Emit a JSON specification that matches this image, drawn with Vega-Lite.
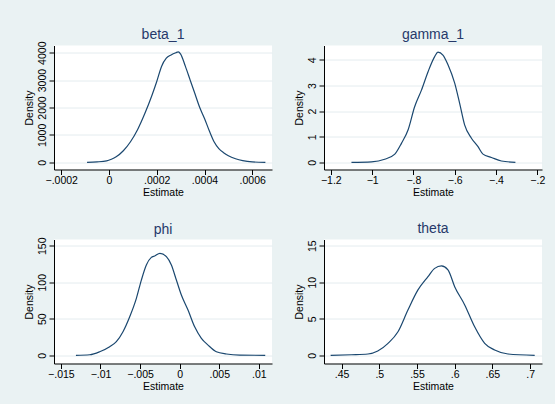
{
  "$schema": "https://vega.github.io/schema/vega-lite/v6.json",
  "autosize": {"type": "pad"},
  "padding": {"left": 24, "top": 27.5, "right": 14, "bottom": 12},
  "background": "#EAF2F3",
  "columns": 2,
  "spacing": {"row": 70, "column": 52},
  "bounds": "flush",
  "concat": [
    {
      "title": {"text": "beta_1", "offset": -1},
      "width": 218, "height": 124,
      "data": {"values": [
        {"x": -0.000092, "density": 0}, {"x": -0.00005, "density": 15}, {"x": -0.00001, "density": 50},
        {"x": 0.00001, "density": 110}, {"x": 0.00003, "density": 200}, {"x": 0.00006, "density": 420},
        {"x": 0.00009, "density": 750}, {"x": 0.00012, "density": 1200}, {"x": 0.00015, "density": 1780},
        {"x": 0.00018, "density": 2450}, {"x": 0.0002, "density": 2950}, {"x": 0.00022, "density": 3500},
        {"x": 0.00024, "density": 3800}, {"x": 0.00026, "density": 3920}, {"x": 0.00028, "density": 4000},
        {"x": 0.00029, "density": 4030}, {"x": 0.0003, "density": 3950}, {"x": 0.00032, "density": 3500},
        {"x": 0.00034, "density": 3000}, {"x": 0.00036, "density": 2500}, {"x": 0.00038, "density": 2000},
        {"x": 0.0004, "density": 1600}, {"x": 0.00042, "density": 1150}, {"x": 0.00044, "density": 750},
        {"x": 0.00046, "density": 500}, {"x": 0.00048, "density": 350}, {"x": 0.0005, "density": 240},
        {"x": 0.00053, "density": 130}, {"x": 0.00056, "density": 60}, {"x": 0.0006, "density": 15},
        {"x": 0.000655, "density": 0}
      ]},
      "mark": {"type": "line", "color": "#1A476F", "strokeWidth": 1.2, "interpolate": "monotone"},
      "encoding": {
        "x": {"field": "x", "type": "quantitative", "scale": {"domain": [-0.0002304, 0.0006827], "nice": false, "zero": false},
              "axis": {"values": [-0.0002, 0, 0.0002, 0.0004, 0.0006], "title": "Estimate"}},
        "y": {"field": "density", "type": "quantitative", "scale": {"domain": [-263, 4263], "nice": false, "zero": false},
              "axis": {"values": [0, 1000, 2000, 3000, 4000], "title": "Density"}}
      }
    },
    {
      "title": {"text": "gamma_1", "offset": 4},
      "width": 218, "height": 124,
      "data": {"values": [
        {"x": -1.1, "density": 0}, {"x": -1.003, "density": 0.02}, {"x": -0.939, "density": 0.12},
        {"x": -0.89, "density": 0.32}, {"x": -0.858, "density": 0.74}, {"x": -0.826, "density": 1.26},
        {"x": -0.794, "density": 2.17}, {"x": -0.761, "density": 2.82}, {"x": -0.729, "density": 3.54},
        {"x": -0.697, "density": 4.13}, {"x": -0.681, "density": 4.3}, {"x": -0.657, "density": 4.19},
        {"x": -0.632, "density": 3.8}, {"x": -0.6, "density": 3.09}, {"x": -0.576, "density": 2.3},
        {"x": -0.552, "density": 1.46}, {"x": -0.519, "density": 0.94}, {"x": -0.487, "density": 0.61},
        {"x": -0.463, "density": 0.32}, {"x": -0.422, "density": 0.19}, {"x": -0.374, "density": 0.05},
        {"x": -0.306, "density": 0}
      ]},
      "mark": {"type": "line", "color": "#1A476F", "strokeWidth": 1.2, "interpolate": "monotone"},
      "encoding": {
        "x": {"field": "x", "type": "quantitative", "scale": {"domain": [-1.233, -0.1772], "nice": false, "zero": false},
              "axis": {"values": [-1.2, -1, -0.8, -0.6, -0.4, -0.2], "title": "Estimate"}},
        "y": {"field": "density", "type": "quantitative", "scale": {"domain": [-0.281, 4.5625], "nice": false, "zero": false},
              "axis": {"values": [0, 1, 2, 3, 4], "title": "Density"}}
      }
    },
    {
      "title": {"text": "phi", "offset": 0},
      "width": 218, "height": 124,
      "data": {"values": [
        {"x": -0.0131, "density": 0}, {"x": -0.01136, "density": 0.8}, {"x": -0.0101, "density": 4.9},
        {"x": -0.00884, "density": 11.8}, {"x": -0.008, "density": 18.6}, {"x": -0.00716, "density": 32.3},
        {"x": -0.00631, "density": 52.8}, {"x": -0.00547, "density": 78}, {"x": -0.00484, "density": 103},
        {"x": -0.00421, "density": 123.6}, {"x": -0.00358, "density": 134}, {"x": -0.00316, "density": 135.9},
        {"x": -0.0025, "density": 139.6}, {"x": -0.00168, "density": 135}, {"x": -0.00105, "density": 123.6},
        {"x": -0.00042, "density": 103}, {"x": 0.00021, "density": 82.5}, {"x": 0.00105, "density": 62},
        {"x": 0.00189, "density": 39}, {"x": 0.00274, "density": 23.3}, {"x": 0.00358, "density": 14},
        {"x": 0.00463, "density": 4.9}, {"x": 0.0059, "density": 1.8}, {"x": 0.00758, "density": 0.2},
        {"x": 0.0108, "density": 0}
      ]},
      "mark": {"type": "line", "color": "#1A476F", "strokeWidth": 1.2, "interpolate": "monotone"},
      "encoding": {
        "x": {"field": "x", "type": "quantitative", "scale": {"domain": [-0.01587, 0.011654], "nice": false, "zero": false},
              "axis": {"values": [-0.015, -0.01, -0.005, 0, 0.005, 0.01], "title": "Estimate"}},
        "y": {"field": "density", "type": "quantitative", "scale": {"domain": [-11.2, 158.5], "nice": false, "zero": false},
              "axis": {"values": [0, 50, 100, 150], "title": "Density"}}
      }
    },
    {
      "title": {"text": "theta", "offset": 4},
      "width": 218, "height": 124,
      "data": {"values": [
        {"x": 0.4355, "density": 0}, {"x": 0.463, "density": 0.08}, {"x": 0.485, "density": 0.18},
        {"x": 0.498, "density": 0.59}, {"x": 0.5116, "density": 1.64}, {"x": 0.5248, "density": 3.23},
        {"x": 0.538, "density": 6.2}, {"x": 0.5513, "density": 8.95}, {"x": 0.5646, "density": 10.77},
        {"x": 0.5735, "density": 11.9}, {"x": 0.5824, "density": 12.23}, {"x": 0.5911, "density": 11.7},
        {"x": 0.6, "density": 9.4}, {"x": 0.6133, "density": 6.9}, {"x": 0.6265, "density": 3.9},
        {"x": 0.6398, "density": 1.64}, {"x": 0.653, "density": 0.73}, {"x": 0.6707, "density": 0.18},
        {"x": 0.7061, "density": 0}
      ]},
      "mark": {"type": "line", "color": "#1A476F", "strokeWidth": 1.2, "interpolate": "monotone"},
      "encoding": {
        "x": {"field": "x", "type": "quantitative", "scale": {"domain": [0.4267, 0.7158], "nice": false, "zero": false},
              "axis": {"values": [0.45, 0.5, 0.55, 0.6, 0.65, 0.7], "title": "Estimate"}},
        "y": {"field": "density", "type": "quantitative", "scale": {"domain": [-1.12, 15.85], "nice": false, "zero": false},
              "axis": {"values": [0, 5, 10, 15], "title": "Density"}}
      }
    }
  ],
  "config": {
    "font": "Liberation Sans",
    "view": {"fill": "white", "stroke": null},
    "title": {"fontSize": 14, "fontWeight": "normal", "color": "#26396A"},
    "axis": {
      "domainColor": "#000000", "tickColor": "#000000", "labelColor": "#000000", "titleColor": "#000000",
      "labelFontSize": 10.5, "titleFontSize": 10.5, "titleFontWeight": "normal", "tickSize": 5,
      "domainWidth": 1, "tickWidth": 1, "grid": false
    },
    "axisX": {
      "labelPadding": 1, "titlePadding": 1,
      "labelExpr": "replace(format(datum.value, '~g'), '0.', '.')"
    },
    "axisY": {
      "grid": true, "gridColor": "#E4ECEF", "gridWidth": 1,
      "labelAngle": 270, "labelAlign": "center", "labelBaseline": "bottom",
      "labelPadding": 2, "titlePadding": 3, "format": "d"
    }
  }
}
